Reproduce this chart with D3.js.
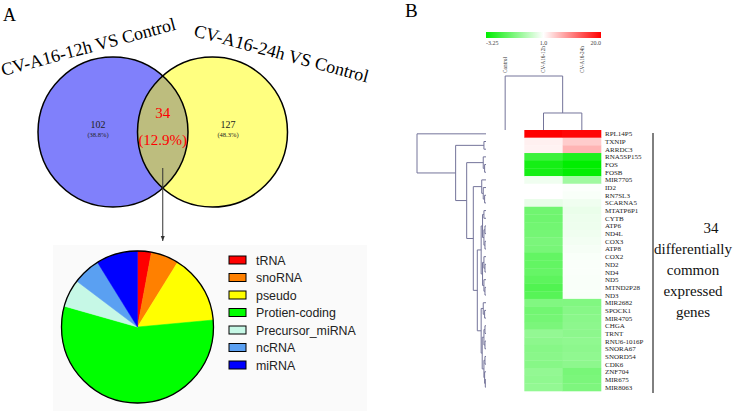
<!DOCTYPE html>
<html>
<head>
<meta charset="utf-8">
<script src="https://cdn.jsdelivr.net/npm/d3@7/dist/d3.min.js"></script>
<style>
  body { margin: 0; background: #fff; }
  svg { display: block; }
</style>
</head>
<body>
<svg id="fig" width="740" height="411"></svg>
<script>
// ---------- data ----------
const vennTitles = ['CV-A16-12h VS Control', 'CV-A16-24h VS Control'];
const vennCounts = [102, 34, 127];            // only 12h, common, only 24h
const vennPercents = ['(38.8%)', '(12.9%)', '(48.3%)'];

const rnaTypes = ['tRNA', 'snoRNA', 'pseudo', 'Protien-coding', 'Precursor_miRNA', 'ncRNA', 'miRNA'];
const rnaCounts = [1, 2, 5, 19, 2, 2, 3];
const rnaColors = ['#ff0000', '#ff8000', '#ffff00', '#00ff00', '#c6f8e6', '#5aa0f2', '#0000ff'];

const samples = ['Control', 'CV-A16-12h', 'CV-A16-24h'];
const genes = ['RPL14P5', 'TXNIP', 'ARRDC3', 'RNA5SP155', 'FOS', 'FOSB', 'MIR7705', 'ID2', 'RN7SL3',
  'SCARNA5', 'MTATP6P1', 'CYTB', 'ATP6', 'ND4L', 'COX3', 'ATP8', 'COX2', 'ND2', 'ND4', 'ND5',
  'MTND2P28', 'ND3', 'MIR2682', 'SPOCK1', 'MIR4705', 'CHGA', 'TRNT', 'RNU6-1016P', 'SNORA67',
  'SNORD54', 'CDK6', 'ZNF704', 'MIR675', 'MIR8063'];
const valControl = [1, 1, 1, 1, 1, 1, 1, 1, 1, 1, 1, 1, 1, 1, 1, 1, 1,
  1, 1, 1, 1, 1, 1, 1, 1, 1, 1, 1, 1, 1, 1, 1, 1, 1];
const val12h = [20, 2.1, 2.0, -2.25, -2.9, -2.9, 0.75, 1.0, 1.0, 0.62, -1.38, -1.4, -1.35, -1.3,
  -1.2, -1.25, -1.6, -1.6, -1.55, -1.7, -1.9, -1.8, -1.1, -1.35, -1.3, -1.2, -0.8, -0.9, -1.0,
  -0.95, -1.0, -0.8, -0.85, -0.8];
const val24h = [19.5, 4.8, 6.6, -2.75, -3.25, -3.2, -0.57, 0.95, 0.9, 0.75, 0.65, 0.7, 0.72, 0.75,
  0.8, 0.85, 0.9, 0.92, 0.92, 0.9, 0.9, 0.88, -1.1, -1.0, -0.95, -0.9, -0.9, -0.85, -0.9, -0.85,
  -0.9, -1.25, -1.2, -1.15];
const colorTicks = [-3.25, 1.0, 20.0];
const colorTickLabels = ['-3.25', '1.0', '20.0'];

// dendrograms: [height, left, right]
const geneTree = [1.0, 'RPL14P5',
  [0.44, [0.03, 'TXNIP', 'ARRDC3'],
    [0.28, [0.04, 'RNA5SP155', [0.02, 'FOS', 'FOSB']],
      [0.184, [0.062, 'MIR7705', [0.04, 'ID2', [0.02, 'RN7SL3', 'SCARNA5']]],
        [0.126,
          [0.07,
            [0.05, [0.03, 'MTATP6P1', 'CYTB'], [0.03, [0.015, 'ATP6', 'ND4L'], [0.015, 'COX3', 'ATP8']]],
            [0.05, [0.03, 'COX2', [0.015, 'ND2', 'ND4']], [0.03, 'ND5', [0.015, 'MTND2P28', 'ND3']]]],
          [0.07,
            [0.04, 'MIR2682', [0.02, 'SPOCK1', 'MIR4705']],
            [0.055, [0.03, [0.015, 'CHGA', 'TRNT'], [0.015, 'RNU6-1016P', 'SNORA67']],
              [0.03, [0.015, 'SNORD54', 'CDK6'], [0.02, 'ZNF704', [0.01, 'MIR675', 'MIR8063']]]]]]]]]];
const sampleTree = [1.0, 'Control', [0.315, 'CV-A16-12h', 'CV-A16-24h']];

const sideText = ['34', 'differentially', 'common', 'expressed', 'genes'];

// ---------- drawing ----------
const svg = d3.select('#fig');
const SERIF = "'Liberation Serif', 'Times New Roman', serif";
const SANS = "'Liberation Sans', Arial, sans-serif";

// panel letters
svg.append('text').attr('x', 3).attr('y', 21).text('A')
  .style('font-family', SERIF).style('font-size', '18px');
svg.append('text').attr('x', 405).attr('y', 17).text('B')
  .style('font-family', SERIF).style('font-size', '19px');

// ----- Venn -----
const venn = { cy: 132, r: 75, lx: 113, rx: 212.5 };
const defs = svg.append('defs');
defs.append('clipPath').attr('id', 'clipLeft')
  .append('circle').attr('cx', venn.lx).attr('cy', venn.cy).attr('r', venn.r);

const vg = svg.append('g');
vg.append('circle').attr('cx', venn.lx).attr('cy', venn.cy).attr('r', venn.r).attr('fill', '#8080fb');
vg.append('circle').attr('cx', venn.rx).attr('cy', venn.cy).attr('r', venn.r).attr('fill', '#ffff80');
vg.append('circle').attr('cx', venn.rx).attr('cy', venn.cy).attr('r', venn.r)
  .attr('fill', '#bdbd7e').attr('clip-path', 'url(#clipLeft)');
[venn.lx, venn.rx].forEach(cx => {
  vg.append('circle').attr('cx', cx).attr('cy', venn.cy).attr('r', venn.r)
    .attr('fill', 'none').attr('stroke', '#000').attr('stroke-width', 1.5);
});

// titles
vg.append('text').attr('transform', 'translate(3,76) rotate(-15)').text(vennTitles[0])
  .style('font-family', SERIF).style('font-size', '18px');
vg.append('text').attr('transform', 'translate(193,36) rotate(15)').text(vennTitles[1])
  .style('font-family', SERIF).style('font-size', '18px');

// counts
const labelX = [98, (venn.lx + venn.rx) / 2, 228];
[0, 2].forEach(i => {
  vg.append('text').attr('x', labelX[i]).attr('y', 128).attr('text-anchor', 'middle')
    .text(vennCounts[i]).style('font-family', SERIF).style('font-size', '10px').attr('fill', '#222');
  vg.append('text').attr('x', labelX[i]).attr('y', 137).attr('text-anchor', 'middle')
    .text(vennPercents[i]).style('font-family', SERIF).style('font-size', '6.5px').attr('fill', '#222');
});
vg.append('text').attr('x', labelX[1]).attr('y', 118).attr('text-anchor', 'middle')
  .text(vennCounts[1]).style('font-family', SERIF).style('font-size', '15px').attr('fill', '#ff0000');
vg.append('text').attr('x', labelX[1]).attr('y', 145).attr('text-anchor', 'middle')
  .text(vennPercents[1]).style('font-family', SERIF).style('font-size', '15px').attr('fill', '#ff0000');

// arrow
defs.append('marker').attr('id', 'arrow').attr('viewBox', '0 0 10 10')
  .attr('refX', 10).attr('refY', 5).attr('markerWidth', 5).attr('markerHeight', 5)
  .attr('orient', 'auto')
  .append('path').attr('d', 'M0,1 L10,5 L0,9 Z').attr('fill', '#333');
vg.append('line').attr('x1', labelX[1]).attr('x2', labelX[1]).attr('y1', 168).attr('y2', 241)
  .attr('stroke', '#333').attr('stroke-width', 1).attr('marker-end', 'url(#arrow)');

// ----- pie -----
svg.insert('rect', ':first-child').attr('x', 53).attr('y', 245).attr('width', 314).attr('height', 166)
  .attr('fill', '#fafafa');

const pieG = svg.append('g').attr('transform', 'translate(137.5,327)');
const pieR = 76;
const pieData = d3.pie().value(d => d.n).sort(null)(rnaTypes.map((t, i) => ({ t, n: rnaCounts[i] })));
const arc = d3.arc().innerRadius(0).outerRadius(pieR);
const pieColor = d3.scaleOrdinal().domain(rnaTypes).range(rnaColors);
pieG.selectAll('path').data(pieData).enter().append('path')
  .attr('d', arc).attr('fill', d => pieColor(d.data.t))
  .attr('stroke', d => pieColor(d.data.t)).attr('stroke-width', 0.5);
pieG.append('circle').attr('r', pieR).attr('fill', 'none').attr('stroke', '#000').attr('stroke-width', 1.3);

const legY = d3.scalePoint().domain(rnaTypes).range([260, 365]);
const leg = svg.append('g').selectAll('g').data(rnaTypes).enter().append('g')
  .attr('transform', d => `translate(229,${legY(d)})`);
leg.append('rect').attr('x', 0).attr('y', -4).attr('width', 17).attr('height', 8)
  .attr('fill', d => pieColor(d)).attr('stroke', '#000').attr('stroke-width', 1);
leg.append('text').attr('x', 27).attr('y', 4.5).text(d => d)
  .style('font-family', SANS).style('font-size', '12.4px').attr('fill', '#222');

// ----- heatmap -----
const rowScale = d3.scaleBand().domain(genes).range([130, 391]);
const colScale = d3.scaleBand().domain(samples).range([486, 601]);
const color = d3.scaleLinear().domain(colorTicks).range(['#00ee00', '#ffffff', '#ff0000']);
const colValues = { 'Control': valControl, 'CV-A16-12h': val12h, 'CV-A16-24h': val24h };

const cells = [];
samples.forEach(s => genes.forEach((g, i) => cells.push({ s, g, v: colValues[s][i] })));
svg.append('g').selectAll('rect').data(cells).enter().append('rect')
  .attr('x', d => colScale(d.s)).attr('y', d => rowScale(d.g))
  .attr('width', colScale.bandwidth() + 0.3).attr('height', rowScale.bandwidth() + 0.3)
  .attr('fill', d => color(d.v));

svg.append('g').selectAll('text').data(genes).enter().append('text')
  .attr('x', colScale.range()[1] + 4)
  .attr('y', d => rowScale(d) + rowScale.bandwidth() / 2 + 2.5)
  .text(d => d).style('font-family', SERIF).style('font-size', '7px').attr('fill', '#222');

// colour bar
const cbX = d3.scaleLinear().domain(colorTicks).range([486, 543.5, 601]);
const grad = defs.append('linearGradient').attr('id', 'cbar');
d3.range(0, 1.0001, 0.05).forEach(t => {
  const v = cbX.invert(486 + t * 115);
  grad.append('stop').attr('offset', t).attr('stop-color', color(v));
});
svg.append('rect').attr('x', cbX(colorTicks[0])).attr('y', 32)
  .attr('width', cbX(colorTicks[2]) - cbX(colorTicks[0])).attr('height', 6).attr('fill', 'url(#cbar)');
const anchors = ['start', 'middle', 'end'];
colorTicks.forEach((t, i) => {
  svg.append('text').attr('x', cbX(t)).attr('y', 44.5).attr('text-anchor', anchors[i])
    .text(colorTickLabels[i]).style('font-family', SERIF).style('font-size', '6px').attr('fill', '#444');
});

// column labels
svg.append('g').selectAll('text').data(samples).enter().append('text')
  .attr('transform', d => `translate(${colScale(d) + colScale.bandwidth() / 2 + 1.8},73) rotate(-90)`)
  .text(d => d).style('font-family', SERIF).style('font-size', '5.2px').attr('fill', '#333');

// dendrograms
const lineColor = '#74749a';
function drawTree(node, leafPos, hPos, vertical) {
  const path = d3.path();
  function walk(n) {
    if (typeof n === 'string') return { p: leafPos(n), h: 0 };
    const a = walk(n[1]), b = walk(n[2]);
    const hh = hPos(n[0]);
    if (!vertical) {
      path.moveTo(hPos(a.h), a.p); path.lineTo(hh, a.p); path.lineTo(hh, b.p); path.lineTo(hPos(b.h), b.p);
    } else {
      path.moveTo(a.p, hPos(a.h)); path.lineTo(a.p, hh); path.lineTo(b.p, hh); path.lineTo(b.p, hPos(b.h));
    }
    return { p: (a.p + b.p) / 2, h: n[0] };
  }
  walk(node);
  svg.append('path').attr('d', path.toString()).attr('fill', 'none')
    .attr('stroke', lineColor).attr('stroke-width', 1);
}
const geneH = d3.scaleLinear().domain([0, 1]).range([486, 417]);
drawTree(geneTree, g => rowScale(g) + rowScale.bandwidth() / 2, geneH, false);
const sampleH = d3.scaleLinear().domain([0, 1]).range([130, 76]);
drawTree(sampleTree, s => colScale(s) + colScale.bandwidth() / 2, sampleH, true);

// bracket + side text
svg.append('line').attr('x1', 653).attr('x2', 653)
  .attr('y1', rowScale.range()[0] + 3).attr('y2', rowScale.range()[1] + 2)
  .attr('stroke', '#000').attr('stroke-width', 1);
const sideY = d3.scalePoint().domain(sideText).range([233, 317]);
svg.append('g').selectAll('text').data(sideText).enter().append('text')
  .attr('x', (d, i) => i === 0 ? 711 : 693).attr('y', d => sideY(d))
  .attr('text-anchor', 'middle').text(d => d)
  .style('font-family', SERIF).style('font-size', '15px').attr('fill', '#111');
</script>
</body>
</html>
